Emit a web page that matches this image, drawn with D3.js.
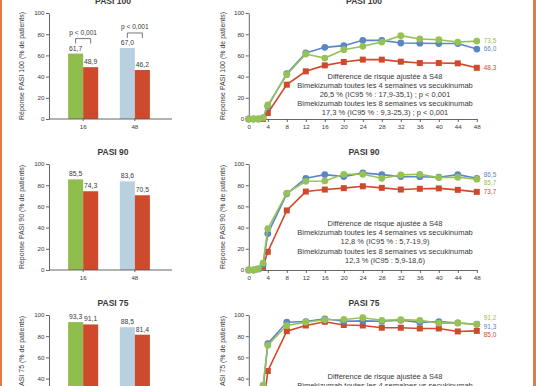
<!DOCTYPE html>
<html><head><meta charset="utf-8">
<script src="https://cdn.jsdelivr.net/npm/d3@7"></script>
<style>
body{margin:0;background:#fff}
svg{display:block}
text{font-family:"Liberation Sans",Arial,sans-serif;fill:#3a3a3a}
</style>
</head><body>
<svg id="c" width="536" height="386"></svg>
<script>
// ---------- DATA ----------
const barWeeks = ["16", "48"];
const panelTitles = ["PASI 100", "PASI 90", "PASI 75"];
const yLabels = ["Réponse PASI 100 (% de patients)", "Réponse PASI 90 (% de patients)", "Réponse PASI 75 (% de patients)"];

const bkzBar100 = [61.7, 67.0];
const secBar100 = [48.9, 46.2];
const bkzBar90 = [85.5, 83.6];
const secBar90 = [74.3, 70.5];
const bkzBar75 = [93.3, 88.5];
const secBar75 = [91.1, 81.4];
const pValues100 = ["p < 0,001", "p < 0,001"];

const weeks = [0, 1, 2, 3, 4, 8, 12, 16, 20, 24, 28, 32, 36, 40, 44, 48];
const weekTicks = [0, 4, 8, 12, 16, 20, 24, 28, 32, 36, 40, 44, 48];
const yTicks = [0, 20, 40, 60, 80, 100];

const bkzQ4W100 = [0, 0, 0, 1, 13.2, 41.8, 61.3, 57.5, 65.4, 68.6, 72.6, 78.6, 75.5, 74.8, 72.6, 73.5];
const bkzQ8W100 = [0, 0, 0, 1, 12.0, 42.8, 62.3, 67.6, 69.2, 74.2, 74.2, 71.7, 71.5, 71.2, 71.2, 66.0];
const sec100    = [0, 0, 0, 0, 5.7, 32.4, 45.0, 50.6, 53.8, 56.0, 56.0, 54.1, 52.8, 52.8, 52.5, 48.3];

const bkzQ4W90 = [0, 0, 1, 6.5, 39.0, 72.5, 83.7, 84.0, 90.3, 90.3, 86.5, 89.7, 90.3, 87.2, 87.5, 85.7];
const bkzQ8W90 = [0, 0, 1, 5.0, 34.4, 71.9, 86.5, 90.0, 88.1, 91.6, 90.0, 88.1, 88.0, 87.5, 90.0, 86.5];
const sec90    = [0, 0, 1, 3.0, 17.2, 56.2, 74.0, 75.9, 77.2, 79.0, 77.5, 75.9, 76.6, 77.0, 75.6, 73.7];

const bkzQ4W75 = [0, 1, 8, 33.8, 71.4, 90.1, 93.2, 95.5, 95.8, 97.4, 95.0, 95.6, 95.0, 92.3, 92.5, 91.2];
const bkzQ8W75 = [0, 1, 7, 30.0, 73.0, 93.2, 93.8, 96.4, 94.1, 94.5, 94.1, 95.0, 93.0, 93.8, 92.5, 91.3];
const sec75    = [0, 0, 3, 10.0, 47.2, 84.8, 90.1, 93.6, 90.6, 90.1, 88.0, 88.0, 87.3, 87.3, 84.5, 85.0];

const notes100 = ["Différence de risque ajustée à S48",
  "Bimekizumab toutes les 4 semaines vs secukinumab",
  "26,5 % (IC95 % : 17,9-35,1) ; p < 0,001",
  "Bimekizumab toutes les 8 semaines vs secukinumab",
  "17,3 % (IC95 % : 9,3-25,3) ; p < 0,001"];
const notes90 = ["Différence de risque ajustée à S48",
  "Bimekizumab toutes les 4 semaines vs secukinumab",
  "12,8 % (IC95 % : 5,7-19,9)",
  "Bimekizumab toutes les 8 semaines vs secukinumab",
  "12,3 % (IC95 : 5,9-18,6)"];
const notes75 = ["Différence de risque ajustée à S48",
  "Bimekizumab toutes les 4 semaines vs secukinumab"];

// ---------- STYLE / LAYOUT ----------
const C = {green: "#96c255", greenBar: "#8fbd4e", blue: "#5b86c6", blueBar: "#b8d0e0",
           red: "#cf4a2c", axis: "#555", border: "#e47a4c"};
const panelTops = [13, 164, 315];
const panelH = 106;
const noteOffsets = [65.5, 62, 63.5];
const fmt = v => d3.format(".1f")(v).replace(".", ",");

const svg = d3.select("#c");
svg.append("rect").attr("x", 0).attr("y", 0).attr("width", 2).attr("height", 386).attr("fill", C.border);
svg.append("rect").attr("x", 533).attr("y", 0).attr("width", 3).attr("height", 386).attr("fill", C.border);

const barSets = [[bkzBar100, secBar100], [bkzBar90, secBar90], [bkzBar75, secBar75]];
const lineSets = [[sec100, bkzQ8W100, bkzQ4W100], [sec90, bkzQ8W90, bkzQ4W90], [sec75, bkzQ8W75, bkzQ4W75]];
const lineColors = [C.red, C.blue, C.green];
const labelPriority = [2, 1, 0]; // for near-equal end values, green label goes on top
const noteSets = [notes100, notes90, notes75];

function styleAxis(g) {
  g.selectAll("path,line").attr("stroke", C.axis).attr("stroke-width", 0.9);
  g.selectAll("text").attr("font-size", 6.2).attr("fill", "#444").style("font-family", "'Liberation Sans',Arial,sans-serif");
}

panelTops.forEach((top, pi) => {
  const y = d3.scaleLinear().domain([0, 100]).range([top + panelH, top]);

  // ===== BAR PANEL =====
  const gB = svg.append("g");
  const xB = d3.scaleBand().domain(barWeeks).range([57.3, 160.7]);
  const xS = d3.scaleBand().domain(["bkz", "sec"]).range([0, xB.bandwidth()]).paddingOuter(0.72);
  gB.append("text").attr("x", 113).attr("y", top - 9.5).attr("text-anchor", "middle")
    .attr("font-size", 8.5).attr("font-weight", "bold").attr("fill", "#222").text(panelTitles[pi]);
  gB.append("text").attr("transform", `translate(23.5,${top + panelH / 2}) rotate(-90)`)
    .attr("text-anchor", "middle").attr("font-size", 7).attr("fill", "#444").text(yLabels[pi]);

  const [bkz, sec] = barSets[pi];
  barWeeks.forEach((w, i) => {
    const x0 = xB(w);
    const entries = [{k: "bkz", v: bkz[i], c: i === 0 ? C.greenBar : C.blueBar}, {k: "sec", v: sec[i], c: C.red}];
    entries.forEach(e => {
      gB.append("rect").attr("x", x0 + xS(e.k)).attr("y", y(e.v)).attr("width", xS.bandwidth())
        .attr("height", y(0) - y(e.v)).attr("fill", e.c);
      gB.append("text").attr("x", x0 + xS(e.k) + xS.bandwidth() / 2).attr("y", y(e.v) - 3)
        .attr("text-anchor", "middle").attr("font-size", 6.8).attr("fill", "#444").text(fmt(e.v));
    });
    if (pi === 0) {
      const by = y(Math.max(bkz[i], sec[i])) - 15;
      const xa = x0 + xS("bkz") + xS.bandwidth() / 2, xb = x0 + xS("sec") + xS.bandwidth() / 2;
      gB.append("path").attr("d", `M${xa},${by + 5}V${by}H${xb}V${by + 5}`)
        .attr("fill", "none").attr("stroke", "#555").attr("stroke-width", 0.8);
      gB.append("text").attr("x", (xa + xb) / 2).attr("y", by - 3.5).attr("text-anchor", "middle")
        .attr("font-size", 6.6).attr("fill", "#444").text(pValues100[i]);
    }
  });
  const yaB = gB.append("g").attr("transform", "translate(49,0)")
    .call(d3.axisLeft(y).tickValues(yTicks).tickSize(3).tickSizeOuter(0).tickPadding(1.5));
  styleAxis(yaB);
  const xaB = gB.append("g").attr("transform", `translate(0,${top + panelH})`)
    .call(d3.axisBottom(xB).tickSize(2).tickSizeOuter(0).tickPadding(3.5));
  xaB.select(".domain").remove();
  styleAxis(xaB);
  gB.append("line").attr("x1", 49).attr("x2", 172).attr("y1", y(0)).attr("y2", y(0))
    .attr("stroke", C.axis).attr("stroke-width", 0.9);

  // ===== LINE PANEL =====
  const gL = svg.append("g");
  const xL = d3.scaleLinear().domain([0, 48]).range([248.8, 476.8]);
  gL.append("text").attr("x", 364).attr("y", top - 9.5).attr("text-anchor", "middle")
    .attr("font-size", 8.5).attr("font-weight", "bold").attr("fill", "#222").text(panelTitles[pi]);
  gL.append("text").attr("transform", `translate(225,${top + panelH / 2}) rotate(-90)`)
    .attr("text-anchor", "middle").attr("font-size", 7).attr("fill", "#444").text(yLabels[pi]);

  const yaL = gL.append("g").attr("transform", "translate(248.8,0)")
    .call(d3.axisLeft(y).tickValues(yTicks).tickSize(3).tickSizeOuter(0).tickPadding(1.5));
  styleAxis(yaL);
  const xaL = gL.append("g").attr("transform", `translate(0,${top + panelH})`)
    .call(d3.axisBottom(xL).tickValues(weekTicks).tickSize(3).tickSizeOuter(0).tickPadding(2.7));
  styleAxis(xaL);

  // notes
  noteSets[pi].forEach((t, i) => {
    gL.append("text").attr("x", 385).attr("y", top + noteOffsets[pi] + i * 9.2).attr("text-anchor", "middle")
      .attr("font-size", 7.5).attr("fill", "#333").text(t);
  });

  const line = d3.line().x((d, i) => xL(weeks[i])).y(d => y(d));
  lineSets[pi].forEach((vals, si) => {
    const col = lineColors[si];
    gL.append("path").datum(vals).attr("d", line).attr("fill", "none").attr("stroke", col).attr("stroke-width", 1.6);
    if (si === 0) {
      gL.selectAll(null).data(vals).enter().append("rect")
        .attr("x", (d, i) => xL(weeks[i]) - 3).attr("y", d => y(d) - 3)
        .attr("width", 6).attr("height", 6).attr("fill", col);
    } else {
      gL.selectAll(null).data(vals).enter().append("circle")
        .attr("cx", (d, i) => xL(weeks[i])).attr("cy", d => y(d)).attr("r", 3.4).attr("fill", col);
    }
  });

  // end labels with simple collision relaxation
  const labs = lineSets[pi].map((vals, si) => ({v: vals[vals.length - 1], c: lineColors[si], p: labelPriority[si], y: y(vals[vals.length - 1])}));
  const order = (a, b) => (Math.abs(a.v - b.v) < 0.5 ? a.p - b.p : b.v - a.v);
  labs.sort(order);
  const gap = 8.4;
  for (let it = 0; it < 80; it++) {
    for (let k = 1; k < labs.length; k++) {
      const d = labs[k].y - labs[k - 1].y;
      if (d < gap) { const m = (gap - d) / 2; labs[k].y += m; labs[k - 1].y -= m; }
    }
  }
  labs.forEach(l => {
    gL.append("text").attr("x", xL(48) + 7).attr("y", l.y + 2.2).attr("font-size", 6.4)
      .style("fill", l.c).text(fmt(l.v));
  });
});
</script>
</body></html>
